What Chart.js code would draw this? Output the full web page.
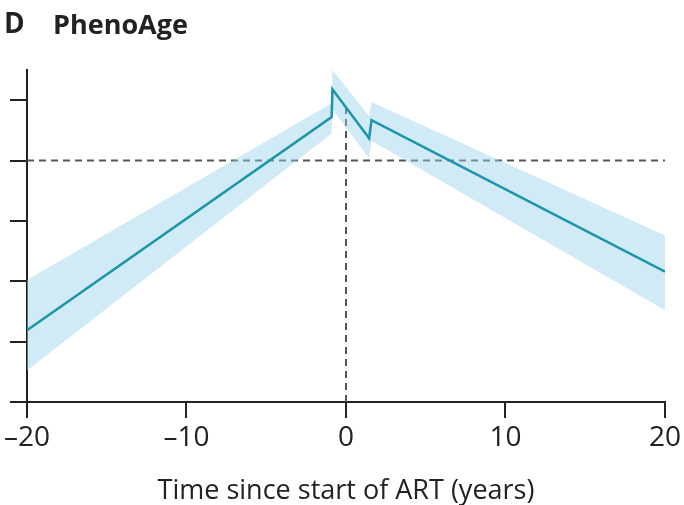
<!DOCTYPE html>
<html lang="en">
<head>
  <meta charset="UTF-8">
  <title>PhenoAge</title>
  <script src="https://cdn.jsdelivr.net/npm/chart.js"></script>
  <style>
    body {
      margin: 0;
      background: #fff;
      font-family: "Open Sans", sans-serif;
    }
    #wrap {
      position: relative;
      width: 684px;
      height: 505px;
    }
    .panel {
      position: absolute;
      font-weight: bold;
      color: #222;
      line-height: 1;
    }
    #letter { left: 4px; top: 8px; font-size: 28px; }
    #name { left: 53px; top: 10px; font-size: 27px; }
  </style>
</head>
<body>
  <div id="wrap">
    <canvas id="phenoChart" width="684" height="505"></canvas>
    <div class="panel" id="letter">D</div>
    <div class="panel" id="name">PhenoAge</div>
  </div>

  <script>
    // time since ART start (years) and estimated PhenoAge effect
    const timeX = [-20, -0.9, -0.85, 1.45, 1.6, 20];
    const fitY = [1.19, 4.72, 5.18, 4.37, 4.67, 2.16];
    const upperY = [2.02, 4.95, 5.5, 4.74, 4.97, 2.76];
    const lowerY = [0.52, 4.45, 4.84, 4.04, 4.33, 1.52];

    // reference lines
    const refY = 4;
    const refX = 0;
    const refXTop = 4.9;

    const xTicks = [-20, -10, 0, 10, 20];

    const toPoints = ys => timeX.map((x, i) => ({ x: x, y: ys[i] }));

    const dashStyle = {
      borderColor: '#555',
      borderWidth: 2,
      borderDash: [7, 5],
      pointRadius: 0,
      fill: false,
      order: 3
    };

    const ctx = document.getElementById('phenoChart').getContext('2d');
    new Chart(ctx, {
      type: 'line',
      data: {
        datasets: [
          {
            label: 'PhenoAge',
            data: toPoints(fitY),
            borderColor: '#1b95a8',
            borderWidth: 2.5,
            pointRadius: 0,
            fill: false,
            order: 0
          },
          {
            label: 'upper',
            data: toPoints(upperY),
            borderWidth: 0,
            pointRadius: 0,
            fill: false,
            order: 1
          },
          {
            label: 'lower',
            data: toPoints(lowerY),
            borderWidth: 0,
            pointRadius: 0,
            fill: 1,
            backgroundColor: 'rgba(150, 208, 235, 0.45)',
            order: 1
          },
          Object.assign({ label: 'ref y', data: [{ x: -20, y: refY }, { x: 20, y: refY }] }, dashStyle),
          Object.assign({ label: 'ref x', data: [{ x: refX, y: 0 }, { x: refX, y: refXTop }] }, dashStyle)
        ]
      },
      options: {
        responsive: false,
        animation: false,
        layout: {
          padding: { top: 70, right: 17, left: 0, bottom: 0 }
        },
        plugins: {
          legend: { display: false },
          tooltip: { enabled: false }
        },
        scales: {
          x: {
            type: 'linear',
            min: -20,
            max: 20,
            afterFit: scale => { scale.height = 103; },
            afterBuildTicks: scale => { scale.ticks = xTicks.map(v => ({ value: v })); },
            border: { color: '#222', width: 2 },
            grid: { drawOnChartArea: false, tickLength: 16, color: '#222', lineWidth: 2 },
            ticks: {
              color: '#222',
              font: { family: 'Open Sans', size: 28 },
              padding: 3,
              maxRotation: 0,
              autoSkip: false,
              callback: v => String(v).replace('-', '\u2013')
            },
            title: {
              display: true,
              text: 'Time since start of ART (years)',
              color: '#222',
              font: { family: 'Open Sans', size: 27, lineHeight: 1 },
              padding: 0
            }
          },
          y: {
            min: 0,
            max: 5.5,
            afterFit: scale => { scale.width = 27; },
            border: { color: '#222', width: 2 },
            grid: { drawOnChartArea: false, tickLength: 17, color: '#222', lineWidth: 2 },
            ticks: { display: false, stepSize: 1, includeBounds: false }
          }
        }
      }
    });
  </script>
</body>
</html>
